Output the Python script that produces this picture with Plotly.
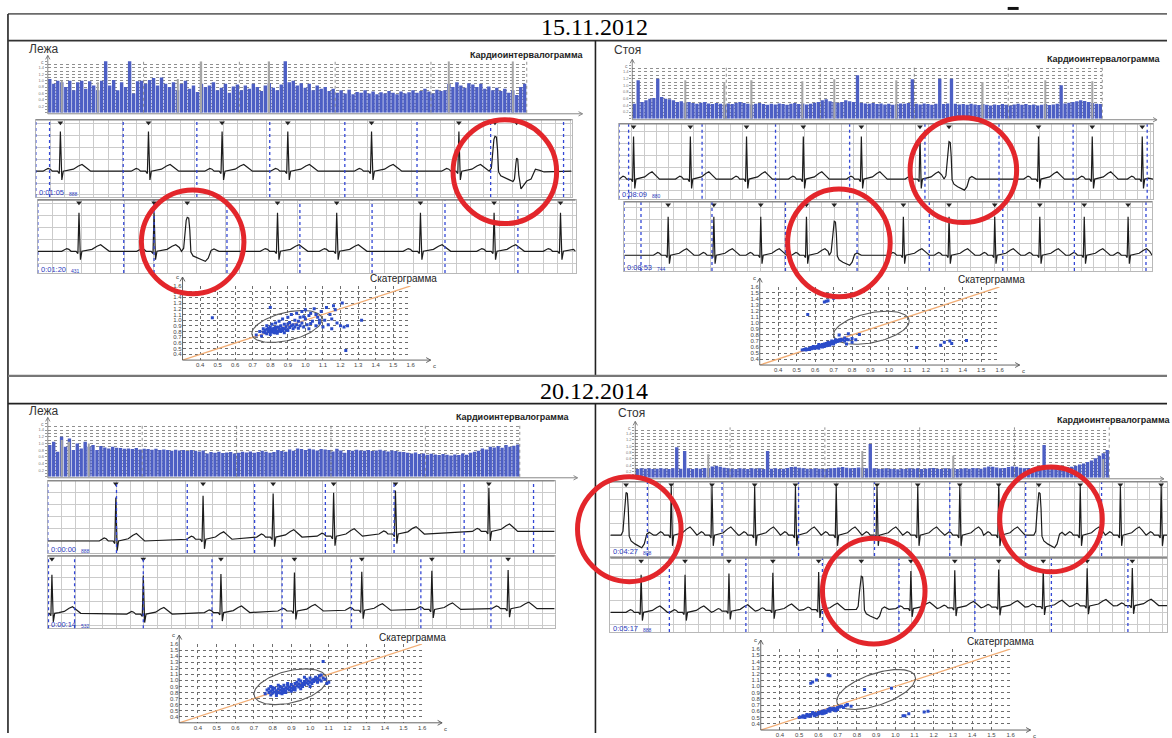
import math
import plotly.graph_objects as go

W, H = 1172, 738
SANS = "Liberation Sans, Arial, sans-serif"
SERIF = "Liberation Serif, Times New Roman, serif"

# ---------------------------------------------------------------- text
DATES = ["15.11.2012", "20.12.2014"]
POSTURES = ["Лежа", "Стоя", "Лежа", "Стоя"]
STAMPS = [("0:01:05", "888"), ("0:01:20", "431"), ("0:08:09", "880"), ("0:08:53", "744"),
          ("0:00:00", "888"), ("0:00:14", "532"), ("0:04:27", "808"), ("0:05:17", "888")]

# ---------------------------------------------------------------- cardiointervalograms (bar heights)
RR_TICKS = [0.2, 0.4, 0.6, 0.8, 1.0, 1.2, 1.4]

RR_TL = [1.05, 0.9, 1.0, 0.95, 0.8, 1.0, 0.7, 0.95, 1.0, 0.75,
         0.98, 0.85, 0.7, 1.0, 1.72, 0.85, 1.02, 0.7, 0.95, 0.8,
         1.72, 0.6, 0.98, 1.0, 0.9, 1.02, 1.08, 0.85, 1.1, 0.9,
         0.8, 0.95, 0.7, 0.9, 1.0, 0.75, 0.85, 0.65, 0.9, 0.8,
         0.85, 0.95, 0.7, 0.78, 0.9, 0.62, 0.82, 0.88, 0.7, 0.85,
         0.75, 0.9, 0.8, 0.68, 0.85, 0.92, 0.78, 0.7, 0.88, 1.72,
         0.95, 1.0, 0.85, 0.92, 0.78, 0.9, 0.7, 0.85, 0.75, 0.8,
         0.68, 0.75, 0.62, 0.7, 0.6, 0.72, 0.58, 0.65, 0.62, 0.7,
         0.6, 0.66, 0.58, 0.64, 0.6, 0.68, 0.62, 0.58, 0.66, 0.6,
         0.64, 0.7, 0.62, 0.68, 0.75, 0.66, 0.6, 0.72, 0.68, 0.7,
         0.9, 0.8, 0.95, 0.85, 0.78, 0.92, 0.88, 0.8, 0.9, 0.75,
         0.82, 0.7, 0.78, 0.68, 0.75, 0.62, 0.7, 0.55, 0.8, 0.9]
MARK_TL_I = [3, 12, 32, 38, 55, 100, 116]
MARK_TL_H = [1.0, 0.95, 1.05, 1.6, 1.6, 1.6, 1.6]

RR_TR = [0.45, 1.15, 0.5, 0.55, 0.6, 0.62, 1.2, 0.65, 0.6, 0.58,
         0.55, 0.5, 0.52, 0.48, 0.5, 0.47, 0.45, 0.48, 0.5, 0.46,
         0.44, 0.47, 0.45, 0.43, 0.46, 0.44, 0.48, 0.5, 0.47, 0.45,
         0.43, 0.45, 0.47, 0.44, 0.42, 0.45, 0.43, 0.46, 0.44, 0.42,
         0.45, 0.47, 0.44, 0.46, 0.43, 0.45, 0.48, 0.5, 0.55, 0.58,
         0.52, 0.5, 0.48, 0.5, 0.55, 0.52, 0.5, 1.3, 0.48, 0.46,
         0.45, 0.47, 0.44, 0.46, 0.43, 0.45, 0.42, 0.44, 0.46, 0.45,
         0.47, 1.18, 0.45, 0.43, 0.46, 0.44, 0.42, 0.45, 1.2, 0.44,
         0.46, 1.2, 0.45, 0.43, 0.44, 0.42, 0.45, 0.43, 0.41, 0.44,
         0.42, 0.4, 0.43, 0.41, 0.44, 0.42, 0.4, 0.43, 0.45, 0.42,
         0.44, 0.41, 0.43, 0.4, 0.42, 0.44, 0.41, 0.43, 0.45, 1.0,
         0.46, 0.48, 0.5, 0.52, 0.55, 0.53, 0.5, 0.47, 0.45, 0.44]
MARK_TR_I = [13, 23, 30, 43, 51, 67, 89, 105, 117]
MARK_TR_H = [1.15, 1.1, 1.15, 1.12, 1.18, 1.15, 1.1, 1.15, 1.12]

RR_BL = [0.95, 1.05, 0.75, 1.2, 0.9, 1.15, 0.8, 1.0, 0.85, 1.05,
         0.9, 0.95, 0.8, 0.92, 0.88, 0.85, 0.9, 0.87, 0.86, 0.84,
         0.85, 0.83, 0.86, 0.82, 0.84, 0.83, 0.81, 0.84, 0.8, 0.82,
         0.8, 0.78, 0.81, 0.79, 0.8, 0.77, 0.8, 0.78, 0.76, 0.79,
         0.7, 0.74, 0.72, 0.75, 0.71, 0.73, 0.74, 0.7, 0.72, 0.75,
         0.73, 0.76, 0.72, 0.74, 0.78, 0.75, 0.72, 0.74, 0.8, 0.77,
         0.75, 0.82, 0.78, 0.85, 0.83, 0.8, 0.84, 0.82, 0.79, 0.83,
         0.82, 0.8, 0.76, 0.84, 0.79, 0.72, 0.8, 0.78, 0.81, 0.79,
         0.78, 0.8, 0.77, 0.79, 0.81, 0.78, 0.76, 0.79, 0.77, 0.75,
         0.74, 0.72, 0.7, 0.73, 0.68, 0.7, 0.66, 0.69, 0.67, 0.65,
         0.68, 0.66, 0.64, 0.67, 0.65, 0.7, 0.66, 0.72, 0.75, 0.78,
         0.85, 0.82, 0.9, 0.88, 0.92, 0.87, 0.95, 0.9, 0.93, 0.97]
MARK_BL_I = [3, 5, 10]
MARK_BL_H = [1.1, 1.05, 1.0]

RR_BR = [0.28, 0.3, 0.29, 0.3, 0.28, 0.29, 0.3, 0.29, 0.28, 0.3,
         0.97, 0.29, 0.85, 0.3, 0.28, 0.3, 0.29, 0.31, 0.3, 0.36,
         0.38, 0.35, 0.32, 0.3, 0.29, 0.28, 0.3, 0.29, 0.28, 0.3,
         0.29, 0.3, 0.28, 0.85, 0.29, 0.3, 0.28, 0.29, 0.31, 0.34,
         0.35, 0.32, 0.3, 0.29, 0.28, 0.3, 0.29, 0.28, 0.29, 0.3,
         0.31, 0.33, 0.34, 0.32, 0.3, 0.31, 0.33, 0.32, 0.3, 1.07,
         0.3, 0.29, 0.28, 0.3, 0.29, 0.28, 0.27, 0.29, 0.28, 0.3,
         0.29, 0.3, 0.28, 0.29, 0.3, 0.31, 0.29, 0.28, 0.3, 0.29,
         0.3, 0.28, 0.29, 0.3, 0.29, 0.31, 0.3, 0.29, 0.33, 0.36,
         0.35, 0.33, 0.3, 0.31, 0.34, 0.36, 0.35, 0.32, 0.3, 0.31,
         0.3, 0.29, 0.31, 1.04, 0.3, 0.32, 0.31, 0.33, 0.32, 0.34,
         0.35, 0.38, 0.42, 0.45, 0.5, 0.55, 0.62, 0.7, 0.78, 0.88]
MARK_BR_I = [18, 57, 80, 118]
MARK_BR_H = [0.75, 0.85, 0.7, 0.6]

# ---------------------------------------------------------------- ECG beat shapes (s from peak, amplitude / R)
N_T = [-0.24, -0.20, -0.17, -0.14, -0.11, -0.04, -0.015, 0.0, 0.02, 0.04, 0.10, 0.18, 0.25, 0.30, 0.35, 0.42]
N_A = [0.0, 0.04, 0.07, 0.05, 0.0, 0.0, -0.06, 1.0, -0.22, 0.0, 0.02, 0.05, 0.13, 0.17, 0.10, 0.0]
V_T = [-0.08, -0.05, -0.03, -0.015, 0.0, 0.02, 0.035, 0.05, 0.08, 0.14, 0.20, 0.25, 0.29, 0.33, 0.37, 0.44]
V_A = [0.0, 0.08, 0.45, 0.8, 0.88, 0.86, 0.55, -0.02, -0.12, -0.18, -0.22, -0.26, -0.18, 0.02, 0.06, 0.0]
W_T = [-0.03, -0.01, 0.0, 0.015, 0.03, 0.06, 0.09, 0.14, 0.20, 0.26, 0.32, 0.38]
W_A = [-0.2, 0.2, 0.33, 0.3, -0.1, -0.45, -0.38, -0.25, -0.2, 0.05, 0.02, -0.02]
SHAPES = {"N": (N_T, N_A), "V": (V_T, V_A), "W": (W_T, W_A)}

# beat times (s), beat kinds, baseline offsets, second-mark lines (s)
TL1_T = [0.34, 1.56, 2.58, 3.49, 4.65, 5.86, 6.36, 6.66]
TL1_K = "NNNNNNVW"
TL1_B = [0, 0, 0, 0, 0, 0, 0, 0]
TL1_D = [0.0, 0.19, 1.21, 2.23, 3.24, 4.28, 5.28, 6.30, 7.31]

TL2_T = [0.57, 1.61, 2.07, 3.32, 4.14, 5.30, 6.32, 7.24]
TL2_K = "NNVNNNNN"
TL2_B = [0, 0, 0, 0, 0, 0, 0, 0]
TL2_D = [0.0, 1.19, 1.61, 2.62, 3.63, 4.63, 5.64, 6.65]

TR1_T = [0.23, 1.15, 2.06, 2.98, 3.92, 4.87, 5.34, 6.79, 7.66, 8.47]
TR1_K = "NNNNNNVNNN"
TR1_B = [0, 0, 0, 0, 0, 0, 0, 0, 0, 0]
TR1_D = [0.0, 0.15, 1.34, 2.53, 3.73, 4.95, 6.15, 7.35, 8.55]

TR2_T = [0.71, 1.45, 2.21, 2.95, 3.40, 4.52, 5.26, 6.00, 6.73, 7.45, 8.16]
TR2_K = "NNNNVNNNNNN"
TR2_B = [0, 0, 0, 0, 0, 0, 0, 0, 0, 0, 0]
TR2_D = [0.0, 0.27, 1.42, 2.61, 3.77, 4.94, 6.13, 7.29, 8.45]

BL1_T = [0.99, 2.26, 3.28, 4.16, 5.06, 6.42]
BL1_K = "NNNNNN"
BL1_B = [-0.02, 0.02, 0.07, 0.09, 0.14, 0.2]
BL1_D = [0.0, 1.0, 2.03, 3.01, 4.04, 5.04, 6.06, 7.07]

BL2_T = [0.06, 1.39, 2.52, 3.59, 4.57, 5.59, 6.70]
BL2_K = "NNNNNNN"
BL2_B = [0.0, -0.02, 0.02, 0.06, 0.08, 0.1, 0.12]
BL2_D = [0.01, 0.39, 1.39, 2.39, 3.41, 4.42, 5.43, 6.45]

BR1_T = [0.25, 0.97, 1.62, 2.30, 2.95, 3.60, 4.25, 4.90, 5.57, 6.19, 6.83, 7.49, 8.13, 8.78]
BR1_K = "VNNNNNNNNNVNNN"
BR1_B = [0, 0, 0, 0, 0, 0, 0, 0, 0, 0, 0, 0, 0, 0]
BR1_D = [0.59, 1.78, 3.0, 4.21, 5.41, 6.62, 7.83]

BR2_T = [0.49, 1.19, 1.89, 2.59, 3.32, 4.00, 4.79, 5.49, 6.19, 6.90, 7.60, 8.32]
BR2_K = "NNNNNVNNNNNN"
BR2_B = [0, 0, 0.03, 0.05, 0.07, 0.08, 0.1, 0.12, 0.14, 0.15, 0.17, 0.18]
BR2_D = [0.94, 2.16, 3.38, 4.60, 5.81, 7.03, 8.25]

# ---------------------------------------------------------------- scattergrams (RR_n, RR_n+1), s
SC_TICKS = [0.4, 0.5, 0.6, 0.7, 0.8, 0.9, 1.0, 1.1, 1.2, 1.3, 1.4, 1.5, 1.6]
DIAG = [0.3, 1.6]

SCAT_TL = [(0.72, 0.74), (0.74, 0.80), (0.75, 0.72), (0.76, 0.85), (0.77, 0.78), (0.78, 0.90),
           (0.78, 0.76), (0.79, 0.82), (0.80, 0.88), (0.80, 0.75), (0.81, 0.80), (0.81, 0.93),
           (0.82, 0.78), (0.82, 0.86), (0.83, 0.82), (0.83, 0.95), (0.84, 0.77), (0.84, 0.88),
           (0.85, 0.84), (0.85, 0.98), (0.86, 0.80), (0.86, 0.90), (0.87, 0.86), (0.87, 1.02),
           (0.88, 0.78), (0.88, 0.93), (0.89, 0.88), (0.90, 1.05), (0.90, 0.82), (0.91, 0.96),
           (0.92, 0.90), (0.92, 1.10), (0.93, 0.85), (0.94, 1.00), (0.95, 1.12), (0.95, 0.92),
           (0.96, 0.86), (0.97, 1.05), (0.98, 0.95), (0.98, 1.15), (0.99, 0.88), (1.00, 1.02),
           (1.00, 1.18), (1.01, 0.92), (1.02, 1.08), (1.02, 0.85), (1.03, 1.12), (1.04, 0.98),
           (1.05, 1.20), (1.06, 0.90), (1.07, 1.05), (1.08, 0.95), (1.09, 1.15), (1.10, 0.88),
           (1.11, 1.00), (1.12, 1.22), (1.13, 0.92), (1.14, 1.10), (1.15, 0.85), (1.16, 1.25),
           (1.18, 0.95), (1.20, 0.90), (1.22, 0.88), (1.24, 0.90), (0.47, 1.04), (0.80, 1.22),
           (1.23, 0.47), (1.32, 1.00), (1.21, 1.30), (1.17, 1.18), (1.15, 1.02), (0.78, 0.84),
           (0.76, 0.79), (0.80, 0.83), (0.83, 0.87), (0.85, 0.81), (0.88, 0.85), (0.79, 0.80),
           (0.82, 0.84), (0.86, 0.83), (0.79, 0.86), (0.81, 0.84), (0.84, 0.80), (0.87, 0.82),
           (0.80, 0.79), (0.83, 0.78), (0.85, 0.87), (0.89, 0.83), (0.77, 0.82), (0.82, 0.81),
           (0.91, 0.87), (0.93, 0.92), (0.96, 0.98), (0.94, 0.88), (0.99, 1.06), (1.03, 0.94),
           (1.06, 1.10), (1.08, 1.00), (0.90, 0.93), (0.97, 0.90)]

SCAT_TR = [(0.53, 0.55), (0.54, 0.56), (0.55, 0.55), (0.55, 0.57), (0.56, 0.56), (0.57, 0.58),
           (0.57, 0.56), (0.58, 0.57), (0.58, 0.59), (0.59, 0.58), (0.60, 0.60), (0.60, 0.58),
           (0.61, 0.61), (0.61, 0.59), (0.62, 0.62), (0.62, 0.60), (0.63, 0.61), (0.63, 0.63),
           (0.64, 0.62), (0.64, 0.64), (0.65, 0.63), (0.65, 0.65), (0.65, 0.61), (0.66, 0.64),
           (0.66, 0.66), (0.67, 0.65), (0.67, 0.63), (0.68, 0.67), (0.68, 0.65), (0.69, 0.66),
           (0.69, 0.68), (0.70, 0.67), (0.70, 0.69), (0.70, 0.65), (0.71, 0.68), (0.71, 0.70),
           (0.72, 0.69), (0.72, 0.71), (0.73, 0.70), (0.73, 0.72), (0.74, 0.71), (0.74, 0.73),
           (0.75, 0.72), (0.76, 0.70), (0.77, 0.73), (0.78, 0.72), (0.80, 0.74), (0.82, 0.72),
           (0.64, 0.60), (0.66, 0.62), (0.68, 0.63), (0.62, 0.64), (0.59, 0.61), (0.69, 0.70),
           (0.71, 0.72), (0.67, 0.68), (0.65, 1.35), (0.66, 1.36), (0.67, 1.37), (0.70, 1.41),
           (0.56, 1.14), (0.78, 0.82), (0.84, 0.81), (0.73, 0.80), (0.80, 0.68), (0.77, 0.65),
           (1.15, 0.59), (1.28, 0.63), (1.30, 0.68), (1.33, 0.70), (1.34, 0.66), (1.42, 0.71),
           (0.62, 0.58), (0.76, 0.75)]

SCAT_BL = [(0.76, 0.78), (0.77, 0.84), (0.78, 0.80), (0.78, 0.86), (0.79, 0.82), (0.79, 0.76),
           (0.80, 0.84), (0.80, 0.79), (0.81, 0.87), (0.81, 0.81), (0.82, 0.83), (0.82, 0.78),
           (0.83, 0.86), (0.83, 0.80), (0.84, 0.84), (0.84, 0.90), (0.85, 0.82), (0.85, 0.87),
           (0.86, 0.80), (0.86, 0.85), (0.87, 0.88), (0.87, 0.83), (0.88, 0.86), (0.88, 0.92),
           (0.89, 0.84), (0.89, 0.89), (0.90, 0.87), (0.90, 0.93), (0.91, 0.90), (0.91, 0.85),
           (0.92, 0.95), (0.92, 0.88), (0.93, 0.91), (0.93, 0.97), (0.94, 0.89), (0.94, 0.94),
           (0.95, 0.92), (0.95, 0.99), (0.96, 0.95), (0.96, 0.90), (0.97, 0.98), (0.97, 0.93),
           (0.98, 0.96), (0.98, 1.02), (0.99, 0.94), (0.99, 0.99), (1.00, 0.97), (1.00, 1.04),
           (1.01, 1.00), (1.01, 0.95), (1.02, 1.02), (1.02, 0.98), (1.03, 1.05), (1.03, 1.00),
           (1.04, 0.97), (1.04, 1.03), (1.05, 1.01), (1.05, 1.07), (1.06, 0.99), (1.07, 1.04),
           (1.08, 1.02), (1.09, 0.95), (1.10, 0.97), (1.07, 1.31), (0.80, 0.88), (0.83, 0.92),
           (0.86, 0.92), (0.90, 0.82), (0.95, 0.86), (1.00, 0.90), (0.82, 0.75), (0.85, 0.78),
           (0.79, 0.90), (0.94, 1.01), (0.97, 1.05), (1.06, 1.09), (0.84, 0.79), (0.87, 0.80),
           (0.92, 0.84), (0.88, 0.95)]

SCAT_BR = [(0.50, 0.50), (0.51, 0.51), (0.52, 0.51), (0.52, 0.53), (0.53, 0.52), (0.54, 0.53),
           (0.54, 0.55), (0.55, 0.54), (0.56, 0.55), (0.56, 0.53), (0.57, 0.56), (0.58, 0.55),
           (0.58, 0.57), (0.59, 0.56), (0.60, 0.58), (0.60, 0.56), (0.61, 0.59), (0.61, 0.57),
           (0.62, 0.58), (0.62, 0.60), (0.63, 0.59), (0.63, 0.61), (0.64, 0.60), (0.64, 0.58),
           (0.65, 0.61), (0.65, 0.63), (0.66, 0.62), (0.66, 0.60), (0.67, 0.63), (0.67, 0.64),
           (0.68, 0.62), (0.68, 0.65), (0.69, 0.64), (0.70, 0.66), (0.70, 0.63), (0.71, 0.67),
           (0.72, 0.68), (0.73, 0.66), (0.74, 0.69), (0.75, 0.70), (0.77, 0.68), (0.59, 0.54),
           (0.57, 0.58), (0.55, 0.52), (0.63, 0.57), (0.66, 0.65), (0.69, 0.61), (0.53, 0.50),
           (0.58, 0.53), (0.62, 0.56), (0.56, 1.05), (0.57, 1.07), (0.59, 1.10), (0.65, 1.18),
           (0.66, 1.17), (0.84, 0.95), (0.98, 0.97), (0.75, 0.71), (1.04, 0.53), (1.05, 0.53),
           (1.07, 0.56), (1.15, 0.59), (1.17, 0.60)]

# ellipse: centre x, centre y, half-width, half-height, phase (deg)
ELL_TL = (0.895, 0.89, 0.20, 0.28, 64)
ELL_TR = (0.905, 0.92, 0.205, 0.275, 66)
ELL_BL = (0.895, 0.895, 0.195, 0.295, 66)
ELL_BR = (0.90, 0.95, 0.205, 0.32, 56)

# ---------------------------------------------------------------- colours
BAR_BLUE = "#4d5fc4"
ECG_GRID = "#cbcbcb"
DOT_BLUE = "#3347d6"
PT_BLUE = "#2b4cc9"
DIAG_COL = "#f2ad74"
RED = "#e3262b"

fig = go.Figure()
shapes, annos = [], []
_k = [0]


def X(px):
    return px / W


def Y(py):
    return 1 - py / H


def add_axes(x0, x1, y0, y1, xcfg, ycfg):
    _k[0] += 1
    s = "" if _k[0] == 1 else str(_k[0])
    base = dict(showgrid=False, zeroline=False, showticklabels=False, fixedrange=True, showline=False)
    xc = {**base, **xcfg, "domain": [X(x0), X(x1)], "anchor": "y" + s}
    yc = {**base, **ycfg, "domain": [Y(y1), Y(y0)], "anchor": "x" + s}
    fig.update_layout({"xaxis" + s: xc, "yaxis" + s: yc})
    return "x" + s, "y" + s


def seg(x0, y0, x1, y1, color, width, dash="solid"):
    shapes.append(dict(type="line", xref="paper", yref="paper", x0=X(x0), y0=Y(y0), x1=X(x1), y1=Y(y1),
                       line=dict(color=color, width=width, dash=dash)))


def arrow(x0, y0, x1, y1, color="#555", width=0.9, head=4.5):
    seg(x0, y0, x1, y1, color, width)
    dx, dy = x1 - x0, y1 - y0
    ln = (dx * dx + dy * dy) ** 0.5
    ux, uy = dx / ln, dy / ln
    px, py = -uy, ux
    a = (x1 - head * ux + 0.55 * head * px, y1 - head * uy + 0.55 * head * py)
    b = (x1 - head * ux - 0.55 * head * px, y1 - head * uy - 0.55 * head * py)
    shapes.append(dict(type="path", xref="paper", yref="paper",
                       path=f"M{X(a[0])},{Y(a[1])} L{X(x1)},{Y(y1)} L{X(b[0])},{Y(b[1])}",
                       line=dict(color=color, width=width)))


def text(x, y, s, size, color="#222", family=SANS, xanchor="left", bold=False):
    annos.append(dict(x=X(x), y=Y(y), xref="paper", yref="paper", showarrow=False,
                      text=f"<b>{s}</b>" if bold else s, xanchor=xanchor, yanchor="middle",
                      font=dict(size=size, color=color, family=family)))


def rr_chart(vals, mark_i, mark_h, g):
    x0, x1, top, bottom, xend = g
    n = len(vals)
    xa, ya = add_axes(
        x0, x1, top, bottom,
        dict(range=[-0.5, n - 0.5]),
        dict(range=[0, 1.6], tickvals=RR_TICKS, ticktext=[f"{v:.1f}" for v in RR_TICKS],
             showticklabels=True, tickfont=dict(size=4, color="#777", family=SANS),
             ticks="outside", ticklen=2, tickcolor="#999",
             showgrid=True, gridcolor="#8f8f8f", griddash="dot", gridwidth=0.7,
             minor=dict(dtick=0.1, tick0=0, showgrid=True, gridcolor="#8f8f8f", griddash="dot",
                        gridwidth=0.7, ticks="outside", ticklen=2, tickcolor="#999")))
    fig.add_trace(go.Bar(x=list(range(n)), y=vals, width=0.85, marker=dict(color=BAR_BLUE, line_width=0),
                         xaxis=xa, yaxis=ya))
    fig.add_trace(go.Bar(x=mark_i, y=mark_h, width=0.35, marker=dict(color="#a6a6a6", line_width=0),
                         xaxis=xa, yaxis=ya))
    for f in (0.2, 0.4, 0.6, 0.8, 1.0):
        shapes.append(dict(type="line", xref=xa + " domain", yref=ya + " domain", x0=f, x1=f, y0=0, y1=1,
                           line=dict(color="#777", width=0.8, dash="dot")))
    arrow(x0, bottom + 1, x0, top - 6, "#666", 0.8, 4)
    arrow(x0, bottom + 1, xend, bottom + 1, "#888", 1.0, 4)
    text(x0 - 9, top + 0.5, "с", 5, "#777")


def ecg(g, beats, kinds, bases, dots, stamp):
    left, right, top, bottom, base_y, r_y, pxs = g
    r_px = base_y - r_y
    t_end = (right - left) / pxs
    yr = [-(bottom - base_y) / r_px, (base_y - top) / r_px]
    xa, ya = add_axes(
        left, right, top, bottom,
        dict(range=[0, t_end], showgrid=True, dtick=0.2, tick0=0, gridcolor=ECG_GRID, gridwidth=1,
             showline=True, mirror=True, linecolor="#b8b8b8"),
        dict(range=yr, showgrid=True, dtick=12 / r_px, tick0=0, gridcolor=ECG_GRID, gridwidth=1,
             showline=True, mirror=True, linecolor="#b8b8b8"))
    segs = []
    for tb, k, b in zip(beats, kinds, bases):
        tt, aa = SHAPES[k]
        segs.append([(tb + dt, b + a) for dt, a in zip(tt, aa)])
    xs, ys = [], []
    for i, sg in enumerate(segs):
        limit = segs[i + 1][0][0] if i + 1 < len(segs) else t_end
        for t, a in sg:
            if 0 <= t < limit and (not xs or t > xs[-1]):
                xs.append(t)
                ys.append(a)
    if xs[0] > 0:
        xs.insert(0, 0.0)
        ys.insert(0, bases[0])
    if xs[-1] < t_end:
        xs.append(t_end)
        ys.append(bases[-1])
    for d in dots:
        shapes.append(dict(type="line", xref=xa, yref=ya + " domain", x0=d, x1=d, y0=0, y1=1,
                           line=dict(color=DOT_BLUE, width=1.3, dash="dot")))
    seg(left, top, right, top, "#8a8a8a", 1.6)
    fig.add_trace(go.Scatter(x=xs, y=ys, mode="lines", line=dict(color="#1c1c1c", width=1.2),
                             xaxis=xa, yaxis=ya))
    fig.add_trace(go.Scatter(x=beats, y=[yr[1] - 3 / r_px] * len(beats), mode="markers",
                             marker=dict(symbol="triangle-down", size=5, color="#222"),
                             cliponaxis=False, xaxis=xa, yaxis=ya))
    text(left + 1, bottom - 4, stamp[0], 7.5, "#2b3bbd")
    text(left + 31, bottom - 2.5, stamp[1], 5, "#2b3bbd")


def scatter(points, ell, g, title_x):
    x03, x16, y03, y16 = g
    ax = dict(range=[0.3, 1.6], tickvals=SC_TICKS, ticktext=[f"{v:.1f}" for v in SC_TICKS],
              showticklabels=True, tickfont=dict(size=6, color="#444", family=SANS),
              showgrid=True, gridcolor="#6e6e6e", griddash="dot", gridwidth=0.7)
    xa, ya = add_axes(x03, x16, y16, y03, dict(ax), dict(ax))
    fig.add_trace(go.Scatter(x=DIAG, y=DIAG, mode="lines", line=dict(color=DIAG_COL, width=1.3),
                             xaxis=xa, yaxis=ya))
    cx, cy, hx, hy, ph = ell
    ts = [2 * math.pi * i / 120 for i in range(121)]
    fig.add_trace(go.Scatter(x=[cx + hx * math.cos(t) for t in ts],
                             y=[cy + hy * math.cos(t - math.radians(ph)) for t in ts],
                             mode="lines", line=dict(color="#5a5a5a", width=1.1), xaxis=xa, yaxis=ya))
    fig.add_trace(go.Scatter(x=[p[0] for p in points], y=[p[1] for p in points], mode="markers",
                             marker=dict(symbol="square", size=3, color=PT_BLUE, line_width=0),
                             xaxis=xa, yaxis=ya))
    arrow(x03, y03, x16 + 20, y03, "#555", 0.9, 4.5)
    arrow(x03, y03, x03, y16 - 9, "#555", 0.9, 4.5)
    text(x03 - 9, y16 - 9, "с", 6, "#444")
    text(x16 + 20, y03 + 6, "с", 6, "#444")
    text(title_x, y16 - 7, "Скатерграмма", 10, "#222")


# ---------------------------------------------------------------- table frame
seg(8, 11, 1172, 11, "#6b6b6b", 1.6)
seg(8, 11, 8, 738, "#222", 1.6)
seg(8, 38, 1172, 38, "#333", 1.8)
seg(598, 38, 598, 377, "#222", 1.6)
seg(8, 377, 1172, 377, "#777", 2.2)
seg(8, 405, 1172, 405, "#222", 1.8)
seg(598, 405, 598, 738, "#222", 1.6)
shapes.append(dict(type="rect", xref="paper", yref="paper", x0=X(1012), x1=X(1023), y0=Y(7), y1=Y(4),
                   fillcolor="#111", line_width=0))
text(597, 24.5, DATES[0], 24, "#000", SERIF, "center")
text(597, 392, DATES[1], 24, "#000", SERIF, "center")

# ---------------------------------------------------------------- panel captions
text(27, 46, POSTURES[0], 12, "#333")
text(615, 48, POSTURES[1], 12, "#333")
text(27, 412, POSTURES[2], 12, "#333")
text(619, 414, POSTURES[3], 12, "#333")
text(588, 53, "Кардиоинтервалограмма", 9, "#222", SANS, "right", True)
text(1167, 57, "Кардиоинтервалограмма", 9, "#222", SANS, "right", True)
text(573, 419, "Кардиоинтервалограмма", 9, "#222", SANS, "right", True)
text(1060, 422, "Кардиоинтервалограмма", 9, "#222", SANS, "left", True)

# ---------------------------------------------------------------- cardiointervalograms
rr_chart(RR_TL, MARK_TL_I, MARK_TL_H, (48, 529, 59, 111, 585))
rr_chart(RR_TR, MARK_TR_I, MARK_TR_H, (635, 1107, 63, 117, 1162))
rr_chart(RR_BL, MARK_BL_I, MARK_BL_H, (48, 522, 425, 479, 580))
rr_chart(RR_BR, MARK_BR_I, MARK_BR_H, (638, 1114, 429, 480, 1169))

# ---------------------------------------------------------------- ECG strips: left, right, top, bottom, baseline, R top, px/s
ecg((36, 574, 118, 196, 170, 130, 72.5), TL1_T, TL1_K, TL1_B, TL1_D, STAMPS[0])
ecg((38, 578, 199, 273, 251, 212, 72.5), TL2_T, TL2_K, TL2_B, TL2_D, STAMPS[1])
ecg((622, 1158, 122, 198, 178, 135, 62), TR1_T, TR1_K, TR1_B, TR1_D, STAMPS[2])
ecg((627, 1157, 201, 271, 255, 216, 62), TR2_T, TR2_K, TR2_B, TR2_D, STAMPS[3])
ecg((48, 557, 483, 556, 543, 499, 69), BL1_T, BL1_K, BL1_B, BL1_D, STAMPS[4])
ecg((48, 557, 559, 632, 617, 578, 69), BL2_T, BL2_K, BL2_B, BL2_D, STAMPS[5])
ecg((613, 1172, 484, 559, 538, 489, 63), BR1_T, BR1_K, BR1_B, BR1_D, STAMPS[6])
ecg((613, 1172, 561, 636, 616, 578, 63), BR2_T, BR2_K, BR2_B, BR2_D, STAMPS[7])

# ---------------------------------------------------------------- scattergrams: x(0.3), x(1.6), y(0.3), y(1.6)
scatter(SCAT_TL, ELL_TL, (183.3, 412.5, 361, 286), 370)
scatter(SCAT_TR, ELL_TR, (763, 1004, 366, 287), 960)
scatter(SCAT_BL, ELL_BL, (180, 424, 727.7, 648), 379)
scatter(SCAT_BR, ELL_BR, (764, 1015, 735, 653), 969)

# ---------------------------------------------------------------- highlighted ectopic beats
for (a, b, c, d) in [(455, 118, 559, 223), (142, 189, 245, 294), (914, 116, 1021, 222), (791, 188, 894, 297),
                     (580, 479, 684, 585), (1004, 469, 1107, 575), (826, 541, 929, 648)]:
    shapes.append(dict(type="circle", xref="paper", yref="paper", x0=X(a), x1=X(c), y0=Y(d), y1=Y(b),
                       line=dict(color=RED, width=5)))

fig.update_layout(width=W, height=H, margin=dict(l=0, r=0, t=0, b=0), autosize=False,
                  paper_bgcolor="white", plot_bgcolor="rgba(0,0,0,0)", showlegend=False,
                  hovermode=False, barmode="overlay", shapes=shapes, annotations=annos)
fig.write_html("out.html", config={"displayModeBar": False})
